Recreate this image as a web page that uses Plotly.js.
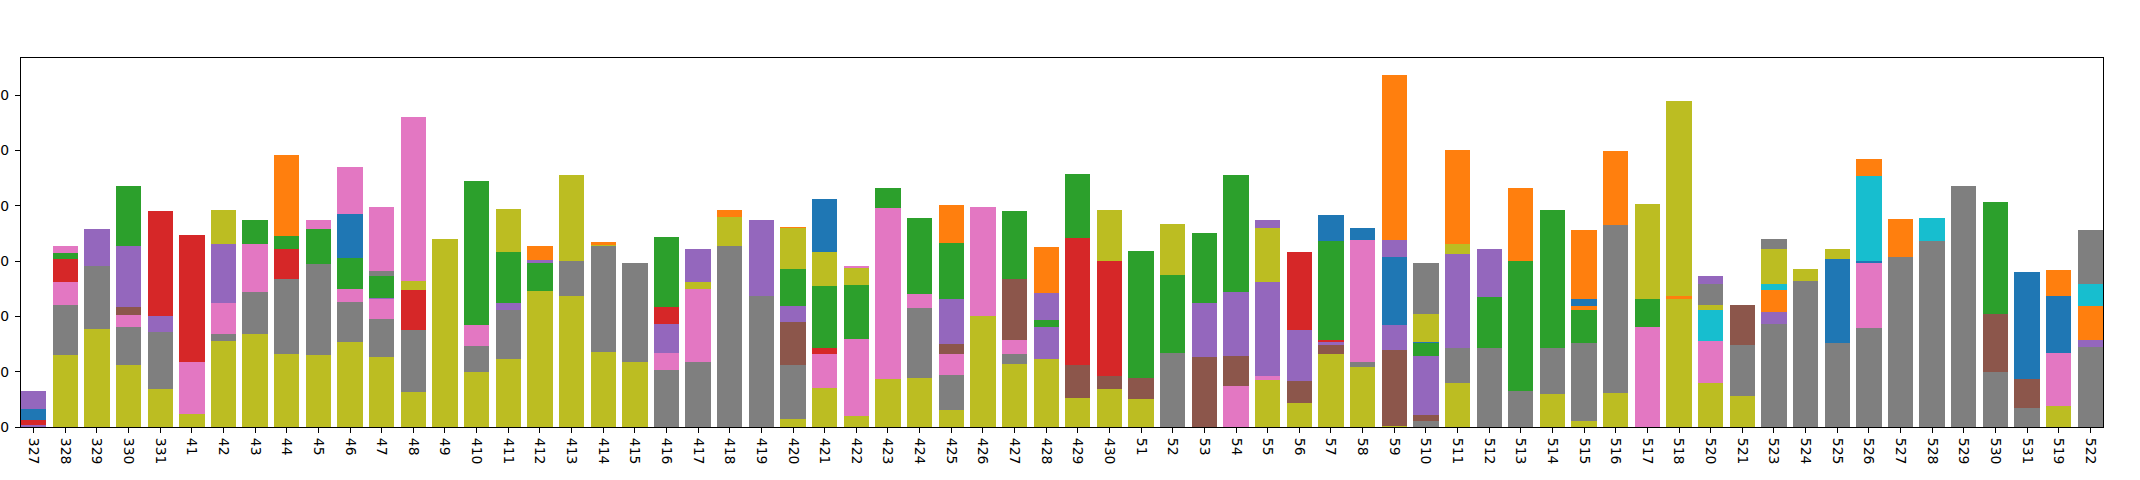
<!DOCTYPE html>
<html>
<head>
<meta charset="utf-8">
<script src="https://cdn.plot.ly/plotly-3.0.1.min.js"></script>
<style>
  html, body { margin: 0; padding: 0; background: #fff; }
</style>
</head>
<body>
<div id="myDiv"></div>
<script>
// categories along x, in drawing order
var cats = ['327','328','329','330','331','41','42','43','44','45','46',
  '47','48','49','410','411','412','413','414','415','416','417',
  '418','419','420','421','422','423','424','425','426','427','428',
  '429','430','51','52','53','54','55','56','57','58','59',
  '510','511','512','513','514','515','516','517','518','520','521',
  '523','524','525','526','527','528','529','530','531','519','522'];

// stacked series, bottom layer first (s0 sits on the axis)
var s0 = [0, 65.1, 88.6, 56.1, 34.4, 12.0, 77.8, 84.1, 66.0, 65.1, 76.9,
  63.0, 31.6, 170.0, 49.7, 61.5, 123.0, 118.4, 68.1, 59.0, 0, 0,
  0, 0, 7.2, 35.0, 9.9, 43.7, 44.3, 15.4, 100.4, 57.0, 61.5,
  26.2, 34.4, 25.3, 0, 0, 0, 42.5, 21.7, 66.0, 54.2, 1.2,
  0, 39.8, 0, 0, 29.8, 5.4, 30.7, 0, 115.7, 40.1, 28.3,
  0, 0, 0, 0, 0, 0, 0, 0, 0, 19.0, 0];
var s1 = [0, 45.2, 57.2, 34.4, 51.8, 0, 6.3, 38.0, 67.8, 82.3, 36.2,
  34.6, 56.1, 0, 23.5, 44.3, 0, 31.6, 95.6, 89.2, 51.5, 58.8,
  163.7, 118.4, 48.8, 0, 0, 0, 63.3, 31.6, 0, 9.0, 0,
  0, 0, 0, 66.9, 0, 0, 0, 0, 0, 4.5, 0,
  5.4, 31.4, 71.2, 32.8, 41.3, 70.5, 151.9, 0, 0, 0, 45.8,
  93.1, 132.0, 75.9, 89.5, 153.7, 168.2, 217.9, 49.7, 17.2, 0, 72.1];
var s2 = [0, 20.8, 0, 10.8, 0, 46.7, 28.0, 43.4, 0, 0, 11.8,
  18.1, 0, 0, 19.0, 0, 0, 0, 0, 0, 15.6, 66.0,
  0, 0, 0, 31.0, 69.6, 154.3, 12.7, 19.0, 98.6, 12.7, 0,
  0, 0, 0, 0, 0, 37.1, 3.6, 0, 0, 110.3, 0,
  0, 0, 0, 0, 0, 0, 0, 90.4, 0, 37.3, 0,
  0, 0, 0, 58.8, 0, 0, 0, 0, 0, 48.2, 0];
var s3 = [0, 0, 0, 7.2, 0, 0, 0, 0, 0, 0, 0,
  0, 0, 0, 0, 0, 0, 0, 0, 0, 0, 0,
  0, 0, 38.9, 0, 0, 0, 0, 9.0, 0, 55.2, 0,
  29.8, 11.8, 19.0, 0, 63.3, 27.1, 0, 19.9, 8.1, 0, 68.4,
  5.4, 0, 0, 0, 0, 0, 0, 0, 0, 0, 36.2,
  0, 0, 0, 0, 0, 0, 0, 52.4, 26.5, 0, 0];
var s4 = [1.4, 0, 33.2, 55.2, 14.2, 0, 53.3, 0, 0, 0, 0,
  0.9, 0, 0, 0, 6.3, 0, 0, 0, 0, 25.9, 0,
  0, 68.7, 14.5, 0, 0, 0, 0, 40.7, 0, 0, 28.9,
  0, 0, 0, 0, 48.8, 57.9, 85.0, 46.1, 2.7, 0, 22.6,
  53.3, 85.3, 0, 0, 0, 0, 0, 0, 0, 0, 0,
  10.8, 0, 0, 0, 0, 0, 0, 0, 0, 0, 6.6];
var s5 = [4.5, 20.8, 0, 0, 94.9, 114.8, 0, 0, 27.1, 0, 0,
  0, 36.2, 0, 0, 0, 0, 0, 0, 0, 15.4, 0,
  0, 0, 0, 5.2, 0, 0, 0, 0, 0, 0, 0,
  114.8, 104.0, 0, 0, 0, 0, 0, 70.5, 1.8, 0, 0,
  0, 0, 0, 0, 0, 0, 0, 0, 0, 0, 0,
  0, 0, 0, 0, 0, 0, 0, 0, 0, 0, 0];
var s6 = [0, 5.4, 0, 54.2, 0, 0, 0, 21.7, 11.8, 31.6, 28.0,
  19.9, 0, 0, 130.2, 46.1, 25.3, 0, 0, 0, 63.3, 0,
  0, 0, 33.5, 56.3, 48.8, 18.1, 68.7, 50.6, 0, 61.5, 6.3,
  57.9, 0, 114.8, 70.5, 63.3, 105.8, 0, 0, 89.5, 0, 0,
  11.8, 0, 46.4, 117.3, 125.0, 29.8, 0, 25.3, 0, 0, 0,
  0, 0, 0, 0, 0, 0, 0, 101.3, 0, 0, 0];
var s7 = [0, 0, 0, 0, 0, 0, 0, 0, 73.2, 0, 0,
  0, 0, 0, 0, 0, 0, 0, 0, 0, 0, 0,
  0, 0, 0, 0, 0, 0, 0, 34.4, 0, 0, 0,
  0, 0, 0, 0, 0, 0, 0, 0, 0, 0, 0,
  0, 0, 0, 66.0, 0, 3.6, 66.9, 0, 2.7, 0, 0,
  19.9, 0, 0, 0, 34.4, 0, 0, 0, 0, 0, 30.7];
var s8 = [10.8, 0, 0, 0, 0, 0, 0, 0, 0, 0, 39.8,
  0, 0, 0, 0, 0, 0, 0, 0, 0, 0, 0,
  0, 0, 0, 0, 0, 0, 0, 0, 0, 0, 0,
  0, 0, 0, 0, 0, 0, 0, 0, 23.5, 10.8, 61.5,
  0.9, 0, 0, 0, 0, 6.3, 0, 0, 0, 0, 0,
  0, 0, 75.9, 2.1, 0, 0, 0, 0, 96.5, 51.3, 0];
var s9 = [0, 0, 0, 0, 0, 0, 0, 0, 0, 0, 0,
  0, 0, 0, 0, 0, 0, 0, 0, 0, 0, 0,
  0, 0, 0, 0, 0, 0, 0, 0, 0, 0, 0,
  0, 0, 0, 0, 0, 0, 0, 0, 0, 0, 0,
  0, 0, 0, 0, 0, 0, 0, 0, 0, 28.0, 0,
  5.4, 0, 0, 76.9, 0, 20.8, 0, 0, 0, 0, 19.9];
var s10 = [0, 0, 0, 0, 0, 0, 30.7, 0, 0, 0, 0,
  0, 8.1, 0, 0, 38.9, 0, 77.8, 0.9, 0, 0, 6.3,
  26.2, 0, 37.1, 30.7, 15.6, 0, 0, 0, 0, 0, 0,
  0, 46.1, 0, 46.1, 0, 0, 48.8, 0, 0, 0, 0,
  25.3, 9.0, 0, 0, 0, 0, 0, 85.9, 176.3, 4.5, 0,
  31.6, 10.8, 9.0, 0, 0, 0, 0, 0, 0, 0, 0];
var s11 = [0, 0, 0, 0, 0, 0, 0, 0, 0, 0, 0,
  4.5, 0, 0, 0, 0, 0, 0, 0, 0, 0, 0,
  0, 0, 0, 0, 0, 0, 0, 0, 0, 0, 0,
  0, 0, 0, 0, 0, 0, 0, 0, 0, 0, 0,
  46.1, 0, 0, 0, 0, 0, 0, 0, 0, 19.0, 0,
  9.0, 0, 0, 0, 0, 0, 0, 0, 0, 0, 48.8];
var s12 = [0, 6.3, 0, 0, 0, 0, 0, 0, 0, 8.1, 42.5,
  57.9, 148.3, 0, 0, 0, 0, 0, 0, 0, 0, 0,
  0, 0, 0, 0, 1.5, 0, 0, 0, 0, 0, 0,
  0, 0, 0, 0, 0, 0, 0, 0, 0, 0, 0,
  0, 0, 0, 0, 0, 0, 0, 0, 0, 0, 0,
  0, 0, 0, 0, 0, 0, 0, 0, 0, 0, 0];
var s13 = [0, 0, 0, 0, 0, 0, 0, 0, 0, 0, 0,
  0, 0, 0, 0, 0, 0, 0, 0, 0, 0, 0,
  0, 0, 0, 0, 0, 0, 0, 0, 0, 0, 0,
  0, 0, 0, 0, 0, 0, 0, 0, 0, 0, 0,
  0, 0, 0, 0, 0, 0, 0, 0, 0, 0, 0,
  0, 0, 0, 0, 0, 0, 0, 0, 0, 0, 0];
var s14 = [15.4, 0, 0, 0, 0, 0, 0, 0, 0, 0, 0,
  0, 0, 0, 0, 0, 2.7, 0, 0, 0, 0, 29.8,
  0, 0, 0, 0, 0, 0, 0, 0, 0, 0, 24.4,
  0, 0, 0, 0, 0, 0, 7.2, 0, 0, 0, 15.4,
  0, 0, 43.4, 0, 0, 0, 0, 0, 0, 7.2, 0,
  0, 0, 0, 0, 0, 0, 0, 0, 0, 0, 0];
var s15 = s13.slice();
var s16 = s13.slice();
var s17 = [0, 0, 0, 0, 0, 0, 0, 0, 0, 0, 0,
  0, 0, 0, 0, 0, 12.7, 0, 2.7, 0, 0, 0,
  6.3, 0, 0.9, 0, 0, 0, 0, 0, 0, 0, 41.6,
  0, 0, 0, 0, 0, 0, 0, 0, 0, 0, 149.2,
  0, 85.0, 0, 0, 0, 62.4, 0, 0, 0, 0, 0,
  0, 0, 0, 15.1, 0, 0, 0, 0, 0, 23.5, 0];
var s18 = [0, 0, 0, 0, 0, 0, 0, 0, 0, 0, 0,
  0, 0, 0, 0, 0, 0, 0, 0, 0, 0, 0,
  0, 0, 0, 47.9, 0, 0, 0, 0, 0, 0, 0,
  0, 0, 0, 0, 0, 0, 0, 0, 0, 0, 0,
  0, 0, 0, 0, 0, 0, 0, 0, 0, 0, 0,
  0, 0, 0, 0, 0, 0, 0, 0, 0, 0, 0];

var series = [s0, s1, s2, s3, s4, s5, s6, s7, s8, s9,
  s10, s11, s12, s13, s14, s15, s16, s17, s18];

// matplotlib tab10; layers were drawn top series first, so the cycle runs backwards
var tab10 = ['#1f77b4', '#ff7f0e', '#2ca02c', '#d62728', '#9467bd',
  '#8c564b', '#e377c2', '#7f7f7f', '#bcbd22', '#17becf'];

var data = [];
for (var k = 0; k < series.length; k++) {
  data.push({
    type: 'bar',
    x: cats,
    y: series[k],
    name: 'layer ' + k,
    marker: {color: tab10[(18 - k) % 10], line: {width: 0}},
    hoverinfo: 'x+y'
  });
}

var layout = {
  width: 2140,
  height: 480,
  barmode: 'stack',
  bargap: 0.2,
  showlegend: false,
  paper_bgcolor: '#fff',
  plot_bgcolor: '#fff',
  font: {family: 'DejaVu Sans', size: 13.9, color: '#000'},
  margin: {l: 21, r: 37, t: 58, b: 53, pad: 0},
  xaxis: {
    type: 'category',
    range: [-0.4, 65.4],
    tickangle: 90,
    ticks: 'outside',
    ticklen: 5,
    tickwidth: 1,
    tickcolor: '#000',
    ticklabelstandoff: 2,
    showgrid: false,
    zeroline: false,
    showline: true,
    linecolor: '#000',
    linewidth: 1.1,
    mirror: true,
    automargin: false
  },
  yaxis: {
    range: [0, 333.6],
    dtick: 50,
    tick0: 0,
    ticks: 'outside',
    ticklen: 5,
    tickwidth: 1,
    tickcolor: '#000',
    ticklabelstandoff: 3,
    showgrid: false,
    zeroline: false,
    showline: true,
    linecolor: '#000',
    linewidth: 1.1,
    mirror: true,
    automargin: false
  }
};

Plotly.newPlot('myDiv', data, layout, {displayModeBar: false, staticPlot: true});
</script>
</body>
</html>
